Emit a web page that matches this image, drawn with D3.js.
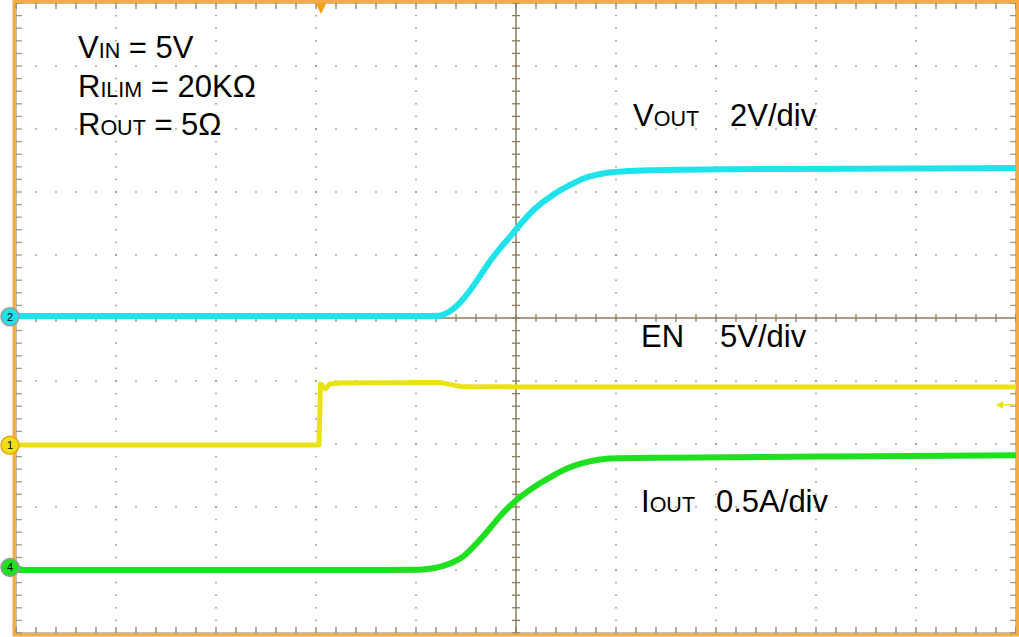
<!DOCTYPE html>
<html>
<head>
<meta charset="utf-8">
<script src="https://cdn.jsdelivr.net/npm/d3@7"></script>
<style>
  html, body { margin: 0; padding: 0; background: #ffffff; }
  svg { display: block; }
  text { font-family: "Liberation Sans", Arial, sans-serif; fill: #000; }
</style>
</head>
<body>
<svg id="chart" width="1019" height="637"></svg>
<script>
// ---------- Data (time in divisions, values in physical units) ----------
const timeDivs = 10;
const voltDivs = 10;

// Channel 2: VOUT (V), 2 V/div
const voutT = [0, 4.2, 4.24, 4.34, 4.44, 4.54, 4.64, 4.74, 4.84, 4.94, 5.01, 5.14, 5.24, 5.34, 5.44, 5.54, 5.67, 5.84, 6.21, 7.34, 10];
const voutV = [0.02, 0.02, 0.02, 0.15, 0.43, 0.82, 1.29, 1.77, 2.18, 2.53, 2.82, 3.29, 3.58, 3.80, 4.02, 4.18, 4.40, 4.56, 4.66, 4.69, 4.72];

// Channel 1: EN (V), 5 V/div
const enT = [0, 3.03, 3.045, 3.09, 3.14, 3.24, 4.24, 4.34, 4.44, 5.04, 10];
const enV = [0.02, 0.02, 4.87, 4.47, 4.87, 4.94, 4.98, 4.83, 4.67, 4.63, 4.63];

// Channel 4: IOUT (A), 0.5 A/div
const ioutT = [0, 4.0, 4.04, 4.24, 4.37, 4.47, 4.57, 4.71, 4.84, 4.94, 5.01, 5.11, 5.24, 5.37, 5.54, 5.71, 5.91, 6.21, 8, 10];
const ioutA = [-0.02, -0.02, -0.02, 0.00, 0.04, 0.08, 0.16, 0.28, 0.41, 0.49, 0.54, 0.60, 0.67, 0.73, 0.80, 0.84, 0.87, 0.87, 0.88, 0.89];

const channelIds = ["2", "1", "4"];
const channelScales = [2, 5, 0.5];       // units per division
const channelOffsets = [0.02, -2.02, -3.96]; // ground marker position (div)
const channelColors = ["#1ee3ea", "#ebe214", "#1fe01f"];

const triggerTime = 3.05;   // div
const triggerLevel = 3.2;   // V on EN channel

// ---------- Layout ----------
const svg = d3.select("#chart");
const x = d3.scaleLinear().domain([0, timeDivs]).range([16, 1016]);
const y = d3.scaleLinear().domain([-voltDivs / 2, voltDivs / 2]).range([633, 3]);

const gridCol = "#9a8d6e";

// grid dots
const g = svg.append("g");
const majorX = d3.range(1, timeDivs).filter(d => d !== 5);
const majorY = d3.range(-4, 5).filter(d => d !== 0);
const subX = d3.range(0, timeDivs + 0.001, 0.2);
const subY = d3.range(-5, 5.001, 0.2);

majorY.forEach(row => {
  g.selectAll(null).data(subX.filter(v => v > 0.01 && v < 9.99)).enter()
    .append("rect")
    .attr("x", d => x(d) - 0.75).attr("y", y(row) - 0.75)
    .attr("width", 1.5).attr("height", 1.5).attr("fill", gridCol);
});
majorX.forEach(col => {
  g.selectAll(null).data(subY.filter(v => v > -4.99 && v < 4.99)).enter()
    .append("rect")
    .attr("x", x(col) - 0.75).attr("y", d => y(d) - 0.75)
    .attr("width", 1.5).attr("height", 1.5).attr("fill", gridCol);
});

// center axes
g.append("line").attr("x1", x(5)).attr("x2", x(5)).attr("y1", y(-5)).attr("y2", y(5))
  .attr("stroke", "#8c7d5c").attr("stroke-width", 1.5);
g.append("line").attr("x1", x(0)).attr("x2", x(10)).attr("y1", y(0)).attr("y2", y(0))
  .attr("stroke", "#8c7d5c").attr("stroke-width", 1.5);
g.selectAll(null).data(subY).enter().append("line")
  .attr("x1", x(5) - 4).attr("x2", x(5) + 4)
  .attr("y1", d => y(d)).attr("y2", d => y(d))
  .attr("stroke", "#8c7d5c").attr("stroke-width", 1.3);
g.selectAll(null).data(subX).enter().append("line")
  .attr("x1", d => x(d)).attr("x2", d => x(d))
  .attr("y1", y(0) - 4).attr("y2", y(0) + 4)
  .attr("stroke", "#8c7d5c").attr("stroke-width", 1.3);

// border ticks
g.selectAll(null).data(subX).enter().append("line")
  .attr("x1", d => x(d)).attr("x2", d => x(d))
  .attr("y1", y(5)).attr("y2", y(5) + 6)
  .attr("stroke", "#8c7d5c").attr("stroke-width", 1.3);
g.selectAll(null).data(subX).enter().append("line")
  .attr("x1", d => x(d)).attr("x2", d => x(d))
  .attr("y1", y(-5)).attr("y2", y(-5) - 6)
  .attr("stroke", "#8c7d5c").attr("stroke-width", 1.3);
g.selectAll(null).data(subY).enter().append("line")
  .attr("x1", x(0)).attr("x2", x(0) + 6)
  .attr("y1", d => y(d)).attr("y2", d => y(d))
  .attr("stroke", "#a89c80").attr("stroke-width", 1.3);
g.selectAll(null).data(subY).enter().append("line")
  .attr("x1", x(10)).attr("x2", x(10) - 6)
  .attr("y1", d => y(d)).attr("y2", d => y(d))
  .attr("stroke", "#a89c80").attr("stroke-width", 1.3);

// inner gray frame
g.append("rect").attr("x", x(0)).attr("y", y(5)).attr("width", x(10) - x(0)).attr("height", y(-5) - y(5))
  .attr("fill", "none").attr("stroke", "#8c7d5c").attr("stroke-width", 1);

// ---------- Traces ----------
const series = [
  { t: voutT, v: voutV },
  { t: enT, v: enV },
  { t: ioutT, v: ioutA }
];
const curves = [d3.curveBasis, d3.curveLinear, d3.curveBasis];
const widths = [6, 5, 6];

series.forEach((s, i) => {
  const pts = s.t.map((t, k) => [t, s.v[k]]);
  const line = d3.line()
    .x(d => x(d[0]))
    .y(d => y(channelOffsets[i] + d[1] / channelScales[i]))
    .curve(curves[i]);
  svg.append("path").datum(pts)
    .attr("d", line)
    .attr("fill", "none")
    .attr("stroke", channelColors[i])
    .attr("stroke-width", widths[i])
    .attr("stroke-linejoin", "round");
});

// ---------- Orange outer frame ----------
svg.append("rect").attr("x", 14).attr("y", 1.5).attr("width", 1003.5).attr("height", 633.5)
  .attr("fill", "none").attr("stroke", "#f6aa45").attr("stroke-width", 3);

// trigger position marker (top)
const tx = x(triggerTime);
svg.append("path")
  .attr("d", `M${tx - 5.5},3 L${tx + 5.5},3 L${tx},14 Z`)
  .attr("fill", "#f5a020");

// trigger level arrow (right)
const ty = y(channelOffsets[1] + triggerLevel / channelScales[1]);
svg.append("line").attr("x1", 1001).attr("x2", 1015).attr("y1", ty).attr("y2", ty)
  .attr("stroke", "#ebe214").attr("stroke-width", 1.5);
svg.append("path").attr("d", `M996,${ty} L1003,${ty - 4} L1003,${ty + 4} Z`).attr("fill", "#ebe214");

// channel ground markers
const markerStroke = ["#9a9a9a", "#f0a020", "#9a9a9a"];
channelIds.forEach((id, i) => {
  const my = y(channelOffsets[i]);
  svg.append("path").attr("d", `M17,${my - 3} L24,${my} L17,${my + 3} Z`).attr("fill", channelColors[i]);
  svg.append("circle").attr("cx", 10).attr("cy", my).attr("r", 9)
    .attr("fill", channelColors[i]).attr("stroke", markerStroke[i]).attr("stroke-width", 1.5);
  svg.append("text").attr("x", 10).attr("y", my + 4).attr("text-anchor", "middle")
    .style("font-size", "11px").text(id);
});

// ---------- Annotations ----------
function label(xp, yp, parts) {
  const t = svg.append("text").attr("x", xp).attr("y", yp);
  parts.forEach(p => t.append("tspan").style("font-size", p[1] + "px").text(p[0]));
}
label(78, 58, [["V", 31], ["IN", 21.5], [" = 5V", 31]]);
label(78, 97, [["R", 31], ["ILIM", 21.5], [" = 20KΩ", 31]]);
label(78, 135, [["R", 31], ["OUT", 21.5], [" = 5Ω", 31]]);

label(633, 126, [["V", 31], ["OUT", 21.5]]);
label(730, 126, [["2V/div", 31]]);
label(641, 347, [["EN", 31]]);
label(720, 347, [["5V/div", 31]]);
label(641, 512, [["I", 31], ["OUT", 21.5]]);
label(716, 512, [["0.5A/div", 31]]);
</script>
</body>
</html>
